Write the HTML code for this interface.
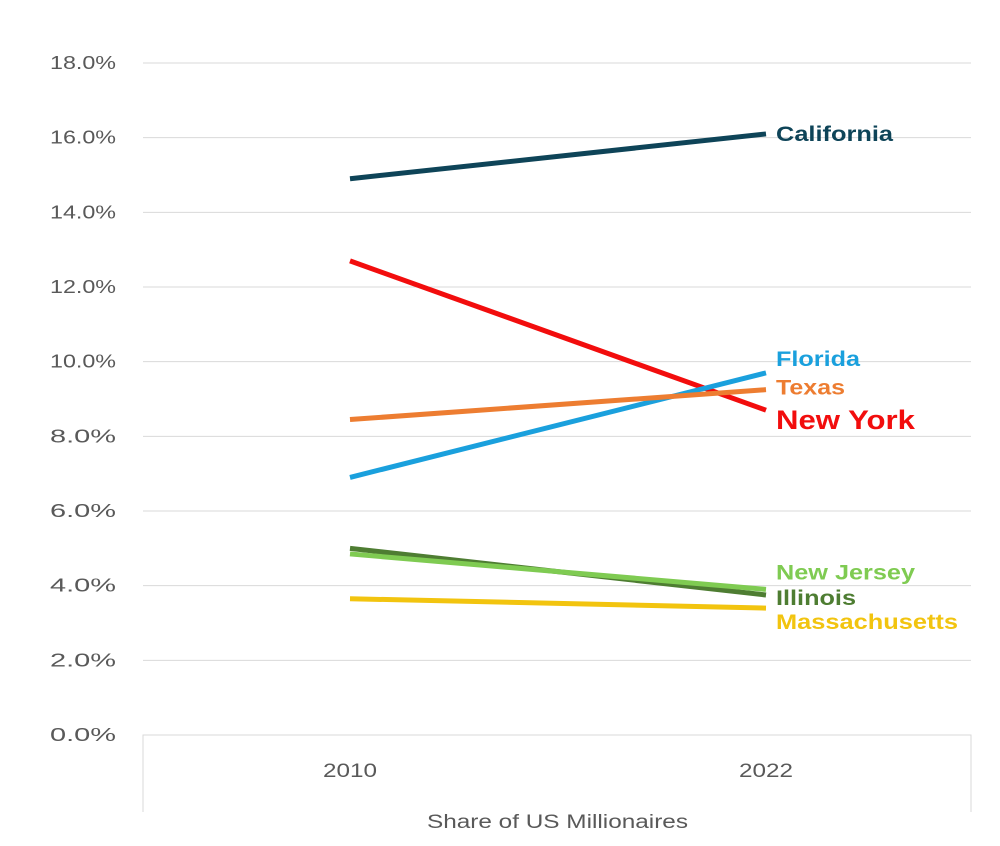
<!DOCTYPE html>
<html><head><meta charset="utf-8"><style>
body{margin:0;background:#fff;}
svg{display:block;font-family:"Liberation Sans",sans-serif;}
</style></head><body>
<svg id="chart" width="1000" height="846"></svg>
<script>
const categories = ["2010","2022"];
const seriesNames = ["California","New York","Florida","Texas","Illinois","New Jersey","Massachusetts"];
const values2010 = [14.9,12.7,6.9,8.45,5.0,4.85,3.65];
const values2022 = [16.1,8.7,9.7,9.25,3.75,3.9,3.4];
const colors = ["#0e4458","#f20d0d","#1aa0dd","#ed7d31","#4e7d32","#7fcb52","#f2c40f"];
const labelOffsets = [0,0,-14,-2,3,-17,14];
const labelWidths = [117,139,84,69,80,139,182];
const yTicks = [0,2,4,6,8,10,12,14,16,18];
const NS="http://www.w3.org/2000/svg";
const svg=document.getElementById('chart');
const y=v=>735-v*(672/18);
const x=i=>350+i*416;
function mk(t,a){const e=document.createElementNS(NS,t);for(const k in a)e.setAttribute(k,a[k]);svg.appendChild(e);return e;}
yTicks.forEach(t=>{
  if(t>0){const l=mk('line',{x1:143,x2:971,y1:y(t),y2:y(t),stroke:'#d9d9d9','stroke-width':1});
  
  }
  const tx=mk('text',{x:50,y:y(t)+6,'font-size':18,fill:'#595959',textLength:66,lengthAdjust:'spacingAndGlyphs'});
  tx.textContent=t.toFixed(1)+'%';
  
  
});
const box=mk('path',{d:'M143,812 V735 H971 V812',fill:'none',stroke:'#d9d9d9','stroke-width':1});


categories.forEach((c,i)=>{
  const tx=mk('text',{x:x(i)-27,y:777,'font-size':19,fill:'#595959',textLength:54,lengthAdjust:'spacingAndGlyphs'});
  tx.textContent=c;
  
  
});
const ttl=mk('text',{x:427,y:828,'font-size':19,fill:'#595959',textLength:261,lengthAdjust:'spacingAndGlyphs'});
ttl.textContent='Share of US Millionaires';


seriesNames.forEach((n,i)=>{
  const l=mk('line',{x1:x(0),y1:y(values2010[i]),x2:x(1),y2:y(values2022[i]),stroke:colors[i],'stroke-width':5});
  
  
});
seriesNames.forEach((n,i)=>{
  const big=n==='New York';
  const tx=mk('text',{x:776,y:y(values2022[i])+labelOffsets[i]+(big?19:7),'font-size':big?27:21,'font-weight':'bold',fill:colors[i],textLength:labelWidths[i],lengthAdjust:'spacingAndGlyphs'});
  tx.textContent=n;
  
  
});
</script>
</body></html>
